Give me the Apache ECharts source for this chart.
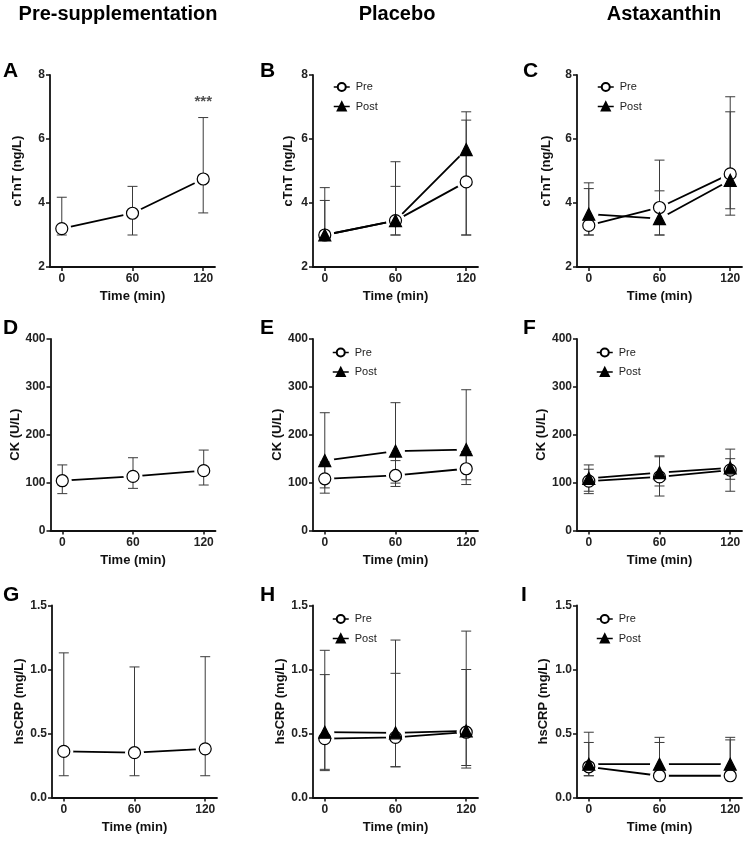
<!DOCTYPE html>
<html><head><meta charset="utf-8">
<script src="https://cdn.jsdelivr.net/npm/echarts@6/dist/echarts.min.js"></script>
<style>html,body{margin:0;padding:0;background:#fff}#c{width:747px;height:841px}</style>
</head><body><div id="c"></div>
<script>
// ---- data ----
const timePoints = [0, 60, 120];
const xTickValues = [0, 60, 120];
const columnTitles = ['Pre-supplementation', 'Placebo', 'Astaxanthin'];
const panelLetters = ['A','B','C','D','E','F','G','H','I'];
const yAxisNames = ['cTnT (ng/L)', 'CK (U/L)', 'hsCRP (mg/L)'];
const seriesNames = ['Pre', 'Post'];

// A: Pre-supplementation cTnT
const aPreMean = [3.20, 3.68, 4.75];
const aPreLow  = [3.00, 3.00, 3.69];
const aPreHigh = [4.18, 4.52, 6.67];
const aAnnotation = [[120, 7.15, '***']];
// B: Placebo cTnT
const bPreMean  = [3.00, 3.45, 4.66];
const bPreLow   = [3.00, 3.00, 3.00];
const bPreHigh  = [4.08, 4.52, 6.59];
const bPostMean = [3.00, 3.45, 5.67];
const bPostLow  = [3.00, 3.00, 3.00];
const bPostHigh = [4.48, 5.29, 6.85];
// C: Astaxanthin cTnT
const cPreMean  = [3.30, 3.86, 4.91];
const cPreLow   = [3.00, 3.00, 3.82];
const cPreHigh  = [4.45, 4.38, 6.85];
const cPostMean = [3.65, 3.51, 4.71];
const cPostLow  = [3.00, 3.00, 3.62];
const cPostHigh = [4.63, 5.34, 7.32];
// D: Pre-supplementation CK
const dPreMean = [104, 113, 125];
const dPreLow  = [77, 88, 95];
const dPreHigh = [137, 152, 168];
// E: Placebo CK
const ePreMean  = [108, 115, 129];
const ePreLow   = [78, 92, 96];
const ePreHigh  = [143, 146, 165];
const ePostMean = [146, 166, 169];
const ePostLow  = [89, 99, 106];
const ePostHigh = [246, 267, 294];
// F: Astaxanthin CK
const fPreMean  = [103, 112, 126];
const fPreLow   = [77, 72, 82];
const fPreHigh  = [128, 154, 150];
const fPostMean = [109, 121, 131];
const fPostLow  = [82, 93, 107];
const fPostHigh = [137, 156, 170];
// G: Pre-supplementation hsCRP
const gPreMean = [0.36, 0.35, 0.38];
const gPreLow  = [0.17, 0.17, 0.17];
const gPreHigh = [1.13, 1.02, 1.10];
// H: Placebo hsCRP
const hPreMean  = [0.46, 0.47, 0.51];
const hPreLow   = [0.21, 0.24, 0.23];
const hPreHigh  = [0.96, 0.97, 1.00];
const hPostMean = [0.51, 0.505, 0.52];
const hPostLow  = [0.22, 0.24, 0.25];
const hPostHigh = [1.15, 1.23, 1.30];
// I: Astaxanthin hsCRP
const iPreMean  = [0.24, 0.17, 0.17];
const iPreLow   = [0.17, 0.17, 0.17];
const iPreHigh  = [0.43, 0.43, 0.45];
const iPostMean = [0.26, 0.26, 0.26];
const iPostLow  = [0.17, 0.17, 0.17];
const iPostHigh = [0.51, 0.47, 0.47];

// ---- layout / style ----
const FONT = '"Liberation Sans", Arial, Helvetica, sans-serif';
const yScales = [
  {min: 2, max: 8, interval: 2, fmt: v => String(v)},
  {min: 0, max: 400, interval: 100, fmt: v => String(v)},
  {min: 0, max: 1.5, interval: 0.5, fmt: v => v.toFixed(1)}
];
const rowTops = [75, 339, 605.5];
const rowHeights = [192, 191.5, 192];
const colLefts = [[50, 313, 577], [50.5, 313, 577], [52, 313, 577]];
const nameGaps = [[26.5, 18, 24], [26.5, 28.5, 29], [26.5, 25.5, 27]];
const legendPos = [null, [328, 76.5], [592, 76.5], null, [327, 342], [591, 342], null, [327, 608.5], [591, 608.5]];
const letterPos = [[3, 71], [260, 71], [523, 71], [3, 328], [260, 328], [523, 328], [3, 595], [260, 595], [521, 595]];
const titlePos = [118, 397, 664];

const panelData = [
  [[aPreMean, aPreLow, aPreHigh]],
  [[bPreMean, bPreLow, bPreHigh], [bPostMean, bPostLow, bPostHigh]],
  [[cPreMean, cPreLow, cPreHigh], [cPostMean, cPostLow, cPostHigh]],
  [[dPreMean, dPreLow, dPreHigh]],
  [[ePreMean, ePreLow, ePreHigh], [ePostMean, ePostLow, ePostHigh]],
  [[fPreMean, fPreLow, fPreHigh], [fPostMean, fPostLow, fPostHigh]],
  [[gPreMean, gPreLow, gPreHigh]],
  [[hPreMean, hPreLow, hPreHigh], [hPostMean, hPostLow, hPostHigh]],
  [[iPreMean, iPreLow, iPreHigh], [iPostMean, iPostLow, iPostHigh]]
];

const symbolOf = ['circle', 'triangle'];
const fillOf = ['#ffffff', '#000000'];

const option = {
  animation: false,
  backgroundColor: '#ffffff',
  grid: [], xAxis: [], yAxis: [], series: [], legend: [], graphic: []
};

function errorBarRender(params, api) {
  const x = api.value(0), lo = api.value(1), hi = api.value(2);
  const pLo = api.coord([x, lo]);
  const pHi = api.coord([x, hi]);
  const w = 5;
  const st = {stroke: '#3a3a3a', lineWidth: 1};
  return {type: 'group', children: [
    {type: 'line', shape: {x1: pHi[0], y1: pHi[1], x2: pLo[0], y2: pLo[1]}, style: st},
    {type: 'line', shape: {x1: pHi[0] - w, y1: pHi[1], x2: pHi[0] + w, y2: pHi[1]}, style: st},
    {type: 'line', shape: {x1: pLo[0] - w, y1: pLo[1], x2: pLo[0] + w, y2: pLo[1]}, style: st}
  ]};
}

for (let i = 0; i < 9; i++) {
  const row = Math.floor(i / 3), col = i % 3;
  const ys = yScales[row];
  option.grid.push({left: colLefts[row][col], top: rowTops[row], width: 165, height: rowHeights[row], outerBoundsMode: 'none', containLabel: false});
  option.xAxis.push({
    type: 'value', gridIndex: i, min: -10, max: 130,
    name: 'Time (min)', nameLocation: 'middle', nameGap: 23,
    nameTextStyle: {fontFamily: FONT, fontSize: 13, fontWeight: 'bold', color: '#111'},
    axisLine: {show: true, onZero: false, lineStyle: {color: '#111', width: 1.8}},
    axisTick: {show: true, length: 4, customValues: xTickValues, lineStyle: {color: '#111', width: 1.5}},
    axisLabel: {show: true, customValues: xTickValues, margin: 6, fontFamily: FONT, fontSize: 12, fontWeight: 'bold', color: '#222'},
    splitLine: {show: false}
  });
  option.yAxis.push({
    type: 'value', gridIndex: i, min: ys.min, max: ys.max, interval: ys.interval,
    name: yAxisNames[row], nameLocation: 'middle', nameGap: nameGaps[row][col],
    nameTextStyle: {fontFamily: FONT, fontSize: 13, fontWeight: 'bold', color: '#111'},
    axisLine: {show: true, onZero: false, lineStyle: {color: '#111', width: 1.8}},
    axisTick: {show: true, length: 4, lineStyle: {color: '#111', width: 1.5}},
    axisLabel: {show: true, margin: 5, fontFamily: FONT, fontSize: 12, fontWeight: 'bold', color: '#222', formatter: ys.fmt},
    splitLine: {show: false}
  });

  panelData[i].forEach((grp, g) => {
    const [mean, low, high] = grp;
    const pts = timePoints.map((t, k) => [t, mean[k]]);
    const bars = timePoints.map((t, k) => [t, low[k], high[k]]);
    option.series.push({
      type: 'line', name: 'line-' + i + '-' + g, xAxisIndex: i, yAxisIndex: i, data: pts,
      symbol: 'none', silent: true, z: 2,
      lineStyle: {color: '#000', width: 1.8}
    });
    option.series.push({
      type: 'scatter', name: 'halo-' + i + '-' + g, xAxisIndex: i, yAxisIndex: i, data: pts,
      symbol: 'circle', symbolSize: 19, silent: true, z: 3,
      itemStyle: {color: '#ffffff', opacity: 1}
    });
    option.series.push({
      type: 'custom', name: 'err-' + i + '-' + g, xAxisIndex: i, yAxisIndex: i, data: bars,
      renderItem: errorBarRender, encode: {x: 0, y: [1, 2]}, silent: true, z: 4
    });
    option.series.push({
      type: 'line', name: seriesNames[g], xAxisIndex: i, yAxisIndex: i, data: pts,
      symbol: symbolOf[g], symbolSize: 12, showSymbol: true, z: 5,
      lineStyle: {opacity: 0, color: '#000', width: 1.8},
      itemStyle: {color: fillOf[g], borderColor: '#000', borderWidth: 1.2}
    });
  });

  if (legendPos[i]) {
    option.legend.push({
      data: seriesNames, orient: 'vertical', left: legendPos[i][0], top: legendPos[i][1],
      itemWidth: 16, itemHeight: 10, itemGap: 8.5, selectedMode: false,
      lineStyle: {color: '#000', width: 1.5, opacity: 1},
      textStyle: {fontFamily: FONT, fontSize: 11, color: '#222', padding: [0, 0, 0, 1]}
    });
  }

  option.graphic.push({
    type: 'text', left: letterPos[i][0], top: letterPos[i][1] - 10,
    style: {text: panelLetters[i], fontFamily: FONT, fontSize: 21, fontWeight: 'bold', fill: '#000'}
  });
}

// significance annotation on panel A
option.series.push({
  type: 'scatter', name: 'annot', xAxisIndex: 0, yAxisIndex: 0,
  data: aAnnotation.map(a => [a[0], a[1]]), symbolSize: 1, silent: true, z: 6,
  itemStyle: {color: 'rgba(0,0,0,0)'},
  label: {show: true, position: 'inside', formatter: p => aAnnotation[p.dataIndex][2], fontFamily: FONT, fontSize: 15, fontWeight: 'bold', color: '#222'}
});

columnTitles.forEach((t, c) => {
  option.graphic.push({
    type: 'text', x: titlePos[c], y: 14,
    style: {text: t, fontFamily: FONT, fontSize: 20, fontWeight: 'bold', fill: '#000', textAlign: 'center', textVerticalAlign: 'middle'}
  });
});

const chart = echarts.init(document.getElementById('c'), null, {renderer: 'canvas'});
chart.setOption(option);
</script>
</body></html>
